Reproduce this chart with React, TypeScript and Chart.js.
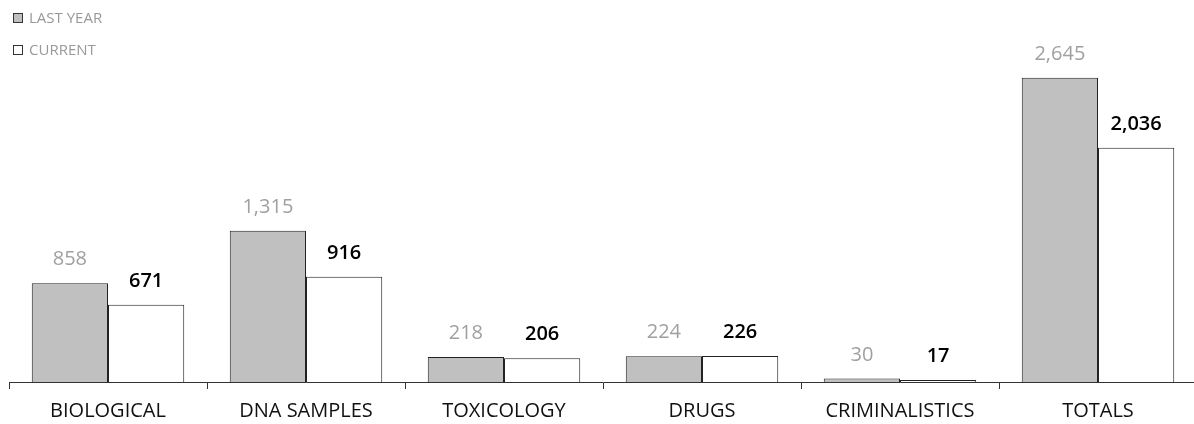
import React, { useEffect, useRef } from "react";
import { Chart, registerables } from "chart.js";

Chart.register(...registerables);

const categories = ["BIOLOGICAL", "DNA SAMPLES", "TOXICOLOGY", "DRUGS", "CRIMINALISTICS", "TOTALS"];
const lastYear = [858, 1315, 218, 224, 30, 2645];
const current = [671, 916, 206, 226, 17, 2036];
const seriesNames = ["LAST YEAR", "CURRENT"];

const FONT = "'Open Sans', 'Noto Sans', sans-serif";

const valueLabels = {
  id: "valueLabels",
  afterDatasetsDraw(chart: any) {
    const ctx = chart.ctx;
    ctx.save();
    chart.data.datasets.forEach((ds: any, di: number) => {
      const meta = chart.getDatasetMeta(di);
      meta.data.forEach((bar: any, i: number) => {
        const v = ds.data[i];
        ctx.font = di === 0 ? `400 20px ${FONT}` : `600 20px ${FONT}`;
        ctx.fillStyle = di === 0 ? "#a0a0a0" : "#000000";
        ctx.textAlign = "center";
        ctx.textBaseline = "alphabetic";
        ctx.fillText(v.toLocaleString("en-US"), bar.x, bar.y - 18);
      });
    });
    ctx.restore();
  },
};

export default function App() {
  const ref = useRef<HTMLCanvasElement | null>(null);
  useEffect(() => {
    if (!ref.current) return;
    const chart = new Chart(ref.current, {
      type: "bar",
      data: {
        labels: categories,
        datasets: [
          {
            label: seriesNames[0],
            data: lastYear,
            backgroundColor: "#c0c0c0",
            borderColor: "#222222",
            borderWidth: 1,
            categoryPercentage: 0.77,
            barPercentage: 1,
          },
          {
            label: seriesNames[1],
            data: current,
            backgroundColor: "#ffffff",
            borderColor: "#222222",
            borderWidth: 1,
            categoryPercentage: 0.77,
            barPercentage: 1,
          },
        ],
      },
      options: {
        animation: false,
        responsive: true,
        maintainAspectRatio: false,
        layout: { padding: { left: 9, right: 3, top: 37, bottom: 0 } },
        plugins: {
          legend: { display: false },
          tooltip: { enabled: false },
        },
        scales: {
          x: {
            grid: {
              offset: true,
              drawOnChartArea: false,
              drawTicks: true,
              tickLength: 7,
              color: "#333333",
            },
            border: { display: true, color: "#333333", width: 1 },
            ticks: {
              color: "#111111",
              font: { family: FONT, size: 20 },
              padding: 10,
              maxRotation: 0,
            },
            afterFit(scale: any) {
              scale.height = 42;
            },
          },
          y: {
            display: false,
            min: 0,
            max: 3000,
          },
        },
      },
      plugins: [valueLabels],
    });
    return () => chart.destroy();
  }, []);

  const legendItem = (label: string, fill: string, top: number) => (
    <div
      style={{
        position: "absolute",
        left: 13,
        top,
        display: "flex",
        alignItems: "center",
        fontFamily: FONT,
        fontSize: 15,
        color: "#999999",
        lineHeight: "15px",
      }}
    >
      <span
        style={{
          display: "inline-block",
          width: 8,
          height: 8,
          background: fill,
          border: "1px solid #333333",
          marginRight: 6,
        }}
      />
      <span>{label}</span>
    </div>
  );

  return (
    <div style={{ position: "absolute", left: 0, top: 0, width: 1194, height: 424, overflow: "hidden", background: "#ffffff" }}>
      <div style={{ position: "absolute", left: 0, top: 0, width: 1200, height: 424 }}>
        <canvas ref={ref} />
      </div>
      {legendItem(seriesNames[0], "#c0c0c0", 10)}
      {legendItem(seriesNames[1], "#ffffff", 42)}
    </div>
  );
}
